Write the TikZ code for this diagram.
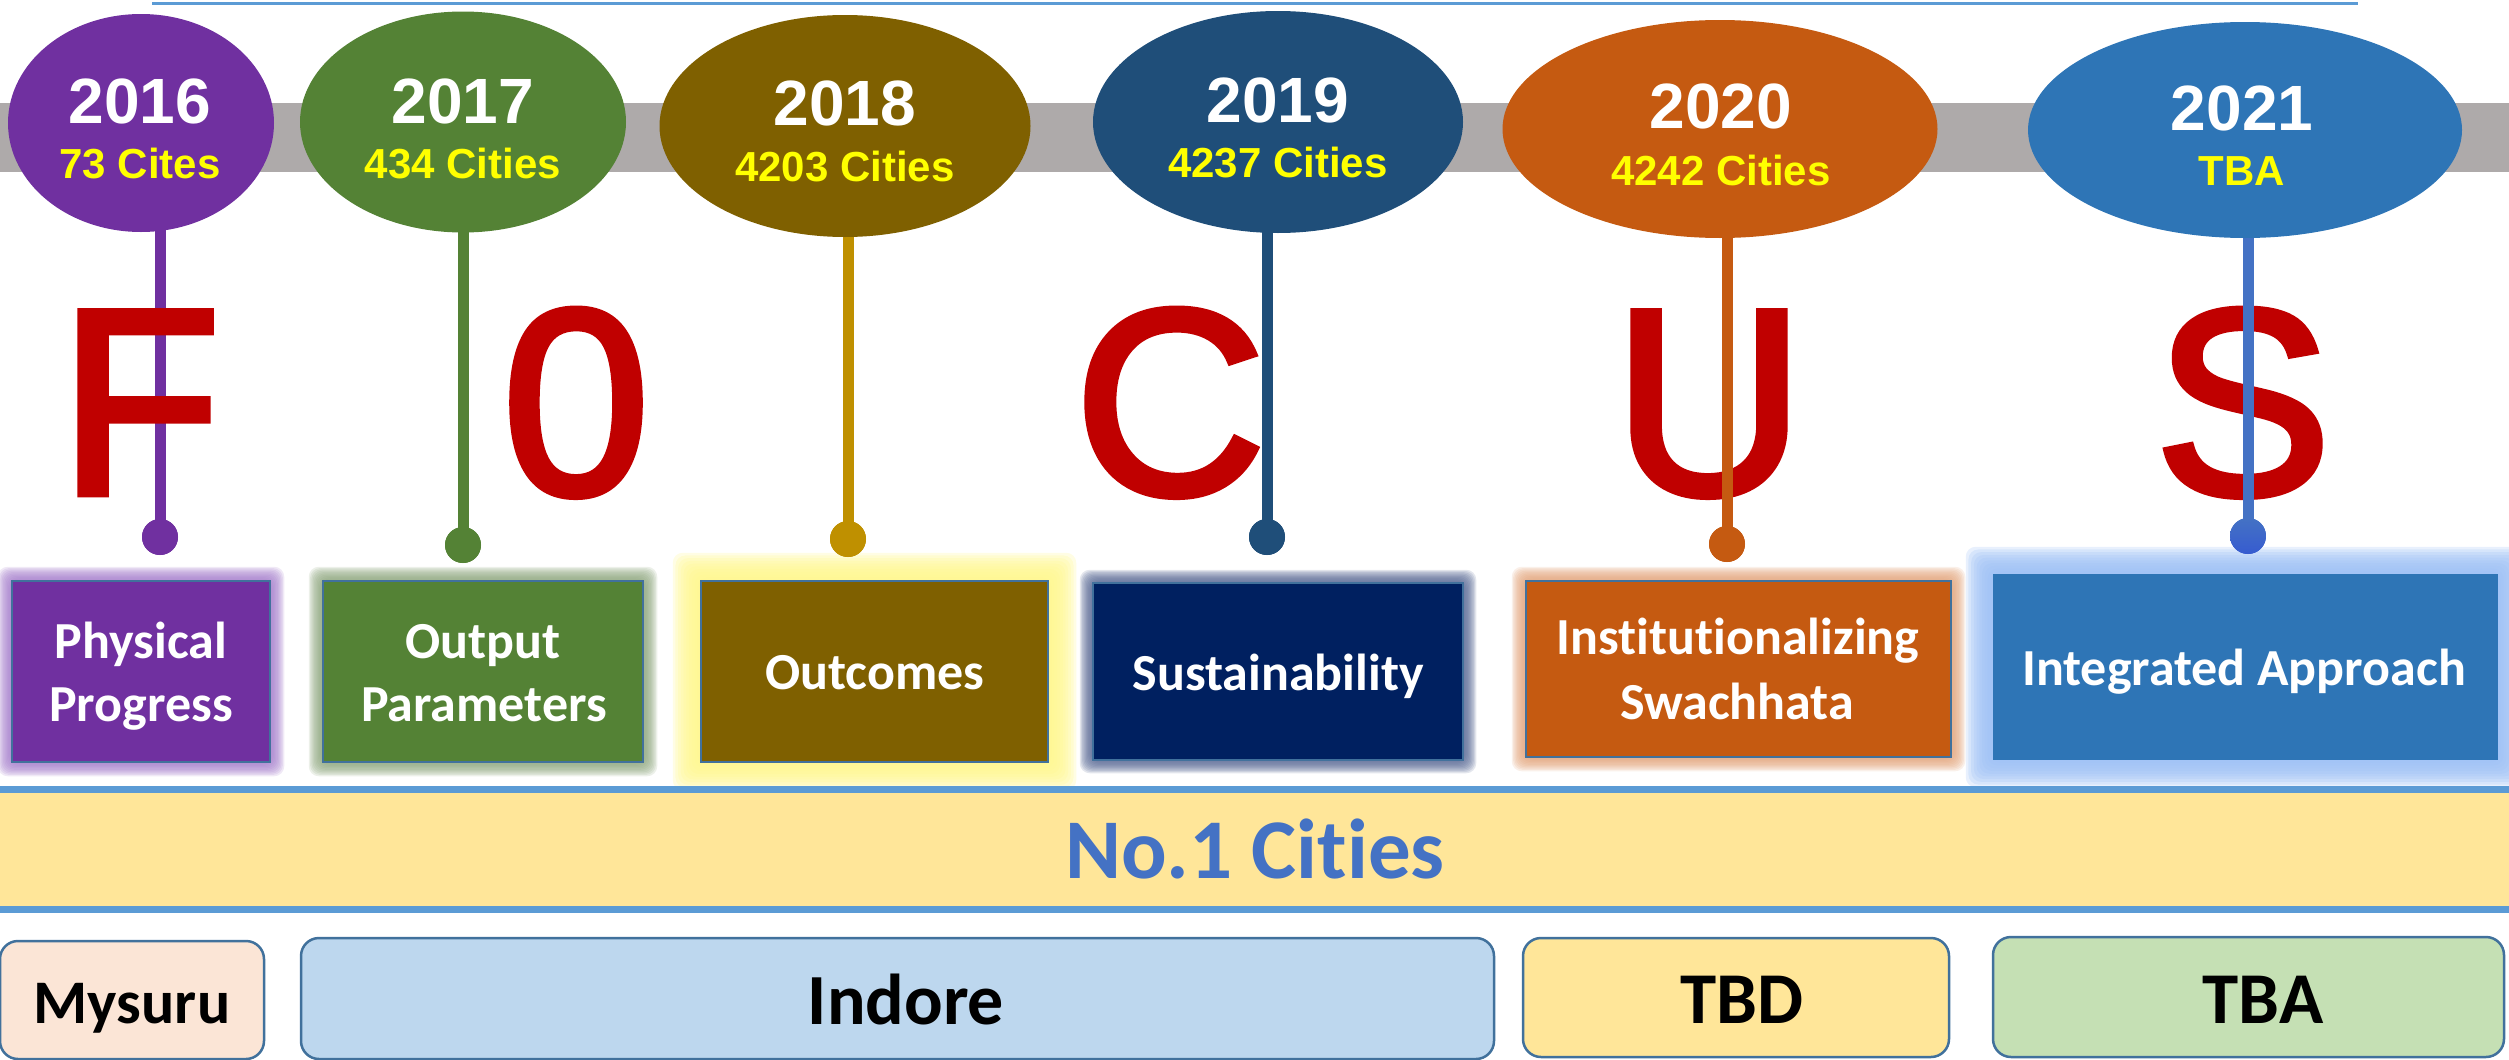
\documentclass[tikz,border=0pt]{standalone}
\usepackage{fontspec}
\setmainfont{Liberation Sans}
\newfontfamily\calib[Ligatures=NoCommon]{Carlito}
\newfontfamily\bigfont[BoldFont={Liberation Sans}, BoldFeatures={FakeBold=2.6}]{Liberation Sans}
\usetikzlibrary{shapes.geometric}
\pgfdeclarelayer{glowlayer}
\pgfsetlayers{glowlayer,main}
\definecolor{purp}{HTML}{7030A0}
\definecolor{grn}{HTML}{548235}
\definecolor{olive}{HTML}{7F6000}
\definecolor{dblue}{HTML}{1F4E79}
\definecolor{orng}{HTML}{C55A11}
\definecolor{mblue}{HTML}{2E75B6}
\definecolor{gold}{HTML}{BF9000}
\definecolor{stemblue}{HTML}{4472C4}
\definecolor{navy}{HTML}{002060}
\definecolor{cyellow}{HTML}{FFFF00}
\definecolor{cred}{HTML}{C00000}
\definecolor{grayband}{HTML}{AEAAAA}
\definecolor{topline}{HTML}{5B9BD5}
\definecolor{barfill}{HTML}{FFE699}
\definecolor{bartext}{HTML}{4472C4}
\definecolor{bordc}{HTML}{41719C}
\definecolor{peach}{HTML}{FBE5D6}
\definecolor{lblue}{HTML}{BDD7EE}
\definecolor{lyellow}{HTML}{FFE699}
\definecolor{lgreen}{HTML}{C5E0B4}
\definecolor{gpurp}{HTML}{A67FCC}
\definecolor{ggrn}{HTML}{8FA77F}
\definecolor{gyel}{HTML}{FFF78F}
\definecolor{gnavy}{HTML}{5A6A95}
\definecolor{gorng}{HTML}{E3A57C}
\definecolor{gblue}{HTML}{9DC0F5}
\tikzset{
  yearell/.style={ellipse, inner sep=0pt, draw=none},
  yeartxt/.style={anchor=base, inner sep=0pt, text=white, font=\bfseries\fontsize{64}{64}\selectfont},
  citytxt/.style={anchor=base, inner sep=0pt, text=cyellow, font=\bfseries\fontsize{42}{42}\selectfont},
  bigletter/.style={anchor=base, inner sep=0pt, text=cred, font=\bigfont\bfseries\fontsize{265}{265}\selectfont},
  stem/.style={line width=11pt},
  dot/.style={circle, inner sep=0pt, minimum size=36pt},
  focusbox/.style={rectangle, inner sep=0pt, draw=bordc, line width=2.5pt},
  boxtxt/.style={anchor=base, inner sep=0pt, text=white, font=\calib\bfseries\fontsize{52}{52}\selectfont},
  citybox/.style={rectangle, rounded corners=18pt, draw=bordc, line width=2.5pt, inner sep=0pt},
  cityname/.style={anchor=base, inner sep=0pt, text=black, font=\calib\bfseries\fontsize{73}{73}\selectfont},
}
\newcommand\glowbox[4]{%
  \begin{pgfonlayer}{glowlayer}
  \foreach \k in {1,...,10}{
    \fill[#2, opacity=#4, rounded corners=10pt]
      ([shift={(-\k*#3pt, \k*#3pt)}]#1.north west) rectangle
      ([shift={(\k*#3pt, -\k*#3pt)}]#1.south east);
  }
  \end{pgfonlayer}}
\begin{document}
\begin{tikzpicture}[x=1pt, y=-1pt]
\useasboundingbox (0,0) rectangle (2509,1060);
% top line
\coordinate (tl) at (152,3);
\coordinate (tr) at (2358,3);
\draw[topline, line width=3pt] (tl) -- (tr);
% gray band
\node[fill=grayband, inner sep=0pt, minimum width=2509pt, minimum height=69pt] (band) at (1254.5,137.5) {};
% dots
\node[dot, fill=purp] (d1) at (160,537) {};
\node[dot, fill=grn] (d2) at (463,545) {};
\node[dot, fill=gold] (d3) at (848,539) {};
\node[dot, fill=dblue] (d4) at (1267,537) {};
\node[dot, fill=orng] (d5) at (1727,544) {};
\node[dot, top color=stemblue, bottom color=stemblue!80!blue] (d6) at (2248,536) {};
% ellipses (positions)
\path (141,123) node[yearell, minimum width=266pt, minimum height=218pt] (e1) {};
\path (463,122) node[yearell, minimum width=326pt, minimum height=221pt] (e2) {};
\path (845,126) node[yearell, minimum width=371pt, minimum height=222pt] (e3) {};
\path (1278,122) node[yearell, minimum width=370pt, minimum height=222pt] (e4) {};
\path (1720,129) node[yearell, minimum width=435pt, minimum height=218pt] (e5) {};
\path (2245,130) node[yearell, minimum width=434pt, minimum height=216pt] (e6) {};
% stem 1 under F
\draw[stem, purp] (d1.center) -- (d1 |- e1.center);
\node[bigletter] (lF) at (140,494) {F};
\node[bigletter] (lO) at (576,494) {0};
\node[bigletter] (lC) at (1170,494) {C};
\node[bigletter] (lU) at (1709,494) {U};
\node[bigletter] (lS) at (2243,494) {S};
\draw[stem, grn] (d2.center) -- (d2 |- e2.center);
\draw[stem, gold] (d3.center) -- (d3 |- e3.center);
\draw[stem, dblue] (d4.center) -- (d4 |- e4.center);
\draw[stem, orng] (d5.center) -- (d5 |- e5.center);
\draw[stem, stemblue] (d6.center) -- (d6 |- e6.center);
% redraw dots on top of stems
\fill[purp] (d1) circle[radius=18pt];
\fill[grn] (d2) circle[radius=18pt];
\fill[gold] (d3) circle[radius=18pt];
\fill[dblue] (d4) circle[radius=18pt];
\fill[orng] (d5) circle[radius=18pt];
\shade[top color=stemblue, bottom color=stemblue!80!blue] (d6) circle[radius=18pt];
% ellipse fills
\fill[purp] (e1.center) ellipse[x radius=133pt, y radius=109pt];
\fill[grn] (e2.center) ellipse[x radius=163pt, y radius=110.5pt];
\fill[olive] (e3.center) ellipse[x radius=185.5pt, y radius=111pt];
\fill[dblue] (e4.center) ellipse[x radius=185pt, y radius=111pt];
\fill[orng] (e5.center) ellipse[x radius=217.5pt, y radius=109pt];
\fill[mblue] (e6.center) ellipse[x radius=217pt, y radius=108pt];
% ellipse texts
\node[yeartxt] (y1) at (140,123) {2016};
\node[citytxt] (c1) at (140,178) {73 Cites};
\node[yeartxt] (y2) at (463,123) {2017};
\node[citytxt] (c2) at (463,178) {434 Cities};
\node[yeartxt] (y3) at (845,125) {2018};
\node[citytxt] (c3) at (845,181) {4203 Cities};
\node[yeartxt] (y4) at (1278,122) {2019};
\node[citytxt] (c4) at (1278,177) {4237 Cities};
\node[yeartxt] (y5) at (1721,128) {2020};
\node[citytxt] (c5) at (1721,185) {4242 Cities};
\node[yeartxt] (y6) at (2242,130) {2021};
\node[citytxt] (c6) at (2242,185) {TBA};
% focus boxes
\node[focusbox, fill=purp, minimum width=258pt, minimum height=181pt] (b1) at (141,671.5) {};
\node[focusbox, fill=grn, minimum width=320pt, minimum height=181pt] (b2) at (483,671.5) {};
\node[focusbox, fill=olive, minimum width=347pt, minimum height=181pt] (b3) at (874.5,671.5) {};
\node[focusbox, fill=navy, minimum width=370pt, minimum height=177pt] (b4) at (1278,671.5) {};
\node[focusbox, fill=orng, minimum width=425pt, minimum height=176pt] (b5) at (1738.5,669) {};
\node[focusbox, fill=mblue, draw=mblue, minimum width=503pt, minimum height=184pt] (b6) at (2245.5,667) {};
\glowbox{b1}{gpurp}{1.3}{0.17}
\glowbox{b2}{ggrn}{1.3}{0.17}
\glowbox{b3}{gyel}{2.7}{0.24}
\glowbox{b4}{gnavy}{1.2}{0.17}
\glowbox{b5}{gorng}{1.3}{0.17}
\glowbox{b6}{gblue}{2.7}{0.24}
\node[boxtxt] (t1a) at (141,658) {Physical};
\node[boxtxt] (t1b) at (141,721) {Progress};
\node[boxtxt] (t2a) at (483,658) {Output};
\node[boxtxt] (t2b) at (484,721) {Parameters};
\node[boxtxt] (t3) at (875,689) {Outcomes};
\node[boxtxt] (t4) at (1278,690) {Sustainability};
\node[boxtxt] (t5a) at (1738,654) {Institutionalizing};
\node[boxtxt] (t5b) at (1737,719) {Swachhata};
\node[boxtxt] (t6) at (2244,685) {Integrated Approach};
% No.1 bar
\node[fill=barfill, inner sep=0pt, minimum width=2509pt, minimum height=119pt] (bar) at (1254.5,849.5) {};
\draw[topline, line width=7pt] (bar.north west) -- (bar.north east);
\draw[topline, line width=7pt] (bar.south west) -- (bar.south east);
\node[anchor=base, inner sep=0pt, text=bartext, font=\calib\bfseries\fontsize{85}{85}\selectfont] (bartitle) at (1255,878) {No.1 Cities};
% city boxes
\node[citybox, fill=peach, minimum width=264pt, minimum height=118pt] (m1) at (132,1000) {};
\node[citybox, fill=lblue, minimum width=1193pt, minimum height=121pt] (m2) at (897.5,998.5) {};
\node[citybox, fill=lyellow, minimum width=426pt, minimum height=119pt] (m3) at (1736,997.5) {};
\node[citybox, fill=lgreen, minimum width=511pt, minimum height=120pt] (m4) at (2248.5,997) {};
\node[cityname, font=\calib\bfseries\fontsize{62}{62}\selectfont] (n1) at (132,1023) {Mysuru};
\node[cityname, font=\calib\bfseries\fontsize{72}{72}\selectfont] (n2) at (906,1024) {Indore};
\node[cityname] (n3) at (1742,1023) {TBD};
\node[cityname] (n4) at (2263,1023) {TBA};
\end{tikzpicture}
\end{document}
